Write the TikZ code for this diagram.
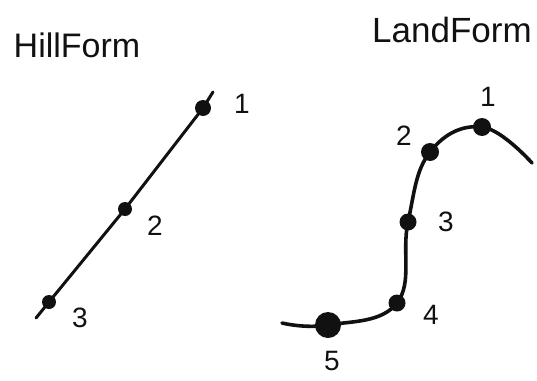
\documentclass[tikz,border=0pt]{standalone}
\usepackage{fontspec}
\setmainfont{Liberation Sans}
\usetikzlibrary{backgrounds}
\definecolor{ink}{HTML}{111111}

\begin{document}
\begin{tikzpicture}[x=1pt, y=-1pt,
      dot/.style={circle, fill=ink, inner sep=0pt, minimum size=#1},
      num/.style={font=\fontsize{28}{28}\selectfont, text=ink},
      ttl/.style={font=\fontsize{#1}{#1}\selectfont, text=ink},
      stroke/.style={draw=ink, line width=#1, line cap=round}]
    \useasboundingbox (0,0) rectangle (537,380);
    % hill form
    \node[ttl=34] (hill) at (77,45) {HillForm};
    \node[dot=16pt] (h1) at (203,108) {};
    \node[dot=14pt] (h2) at (125,209) {};
    \node[dot=14pt] (h3) at (49,302) {};
    \coordinate (htop) at (213,92);
    \coordinate (hbot) at (36,318);
    \node[num] (n1) at (242,104) {1};
    \node[num] (n2) at (155,226) {2};
    \node[num] (n3) at (80,318) {3};
    % land form
    \node[ttl=35] (land) at (452,30) {LandForm};
    \node[dot=18pt] (l1) at (482,127) {};
    \node[dot=18pt] (l2) at (430,152) {};
    \node[dot=17pt] (l3) at (408,222) {};
    \node[dot=17pt] (l4) at (397,303) {};
    \node[dot=26pt] (l5) at (328,325) {};
    \coordinate (lbeg) at (282,323);
    \coordinate (lend) at (532,163);
    \node[num] (m1) at (488,97) {1};
    \node[num] (m2) at (404,136) {2};
    \node[num] (m3) at (446,222) {3};
    \node[num] (m4) at (431,315) {4};
    \node[num] (m5) at (332,361) {5};
    \begin{scope}[on background layer]
      \draw[stroke=3pt] (htop) -- (h1.center) -- (h2.center) -- (h3.center) -- (hbot);
      \draw[stroke=3.6pt] plot[smooth, tension=0.7] coordinates
        {(lbeg) (l5.center) (l4.center) (l3.center) (l2.center) (l1.center) (lend)};
    \end{scope}
  \end{tikzpicture}
\end{document}
